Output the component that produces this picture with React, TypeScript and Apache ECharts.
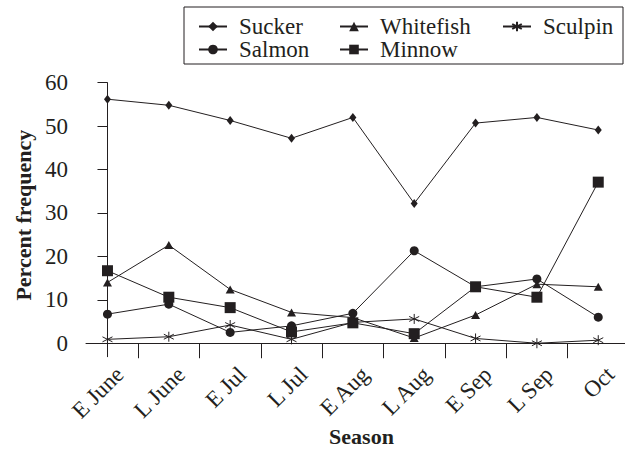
import React, { useEffect, useRef } from "react";
import * as echarts from "echarts";

const seasons = ["E June", "L June", "E Jul", "L Jul", "E Aug", "L Aug", "E Sep", "L Sep", "Oct"];
const sucker = [56.2, 54.8, 51.3, 47.2, 52.0, 32.2, 50.7, 52.0, 49.1];
const whitefish = [14.0, 22.6, 12.4, 7.1, 5.9, 1.2, 6.5, 13.6, 13.0];
const sculpin = [0.9, 1.5, 4.2, 0.9, 4.8, 5.6, 1.1, 0.0, 0.7];
const salmon = [6.7, 9.0, 2.5, 4.0, 6.9, 21.3, 13.0, 14.8, 6.0];
const minnow = [16.7, 10.6, 8.2, 2.6, 4.7, 2.2, 13.0, 10.6, 37.1];
const yTicks = [0, 10, 20, 30, 40, 50, 60];

const INK = "#231f20";
const FONT = "Liberation Serif";
const LABEL_SHIFT = 0.2;
const ASTERISK = "path://M5,0 L5,10 M0.67,2.5 L9.33,7.5 M0.67,7.5 L9.33,2.5";

export default function App() {
  const ref = useRef<HTMLDivElement>(null);
  useEffect(() => {
    if (!ref.current) return;
    document.body.style.margin = "0";
    const chart = echarts.init(ref.current, undefined, { renderer: "svg" });
    const pts = (arr: number[]) => arr.map((v, i) => [i, v]);
    const mk = (name: string, arr: number[], symbol: string, size: any, extra: any = {}) => ({
      name,
      type: "line",
      data: pts(arr),
      symbol,
      symbolSize: size,
      lineStyle: { color: INK, width: 1 },
      itemStyle: { color: INK, ...extra },
      emphasis: { disabled: true },
    });
    const leg = (name: string, left: number, top: number) => ({
      data: [name],
      left,
      top,
      padding: 0,
      itemWidth: 28,
      itemHeight: 12,
      itemGap: 0,
      selectedMode: false,
      textStyle: { fontFamily: FONT, fontSize: 23, color: INK, padding: [0, 0, 0, 7] },
    });
    chart.setOption({
      animation: false,
      backgroundColor: "#ffffff",
      grid: { left: 86, right: 0, top: 82.7, bottom: 94.3, containLabel: false, outerBoundsMode: "none" },
      legend: [
        leg("Sucker", 198, 15),
        leg("Whitefish", 339, 15),
        leg("Sculpin", 502, 15),
        leg("Salmon", 198, 38),
        leg("Minnow", 339, 38),
      ],
      graphic: [
        {
          type: "rect",
          shape: { x: 184, y: 7, width: 439, height: 57 },
          style: { fill: "none", stroke: INK, lineWidth: 1 },
          silent: true,
        },
      ],
      xAxis: {
        type: "value",
        min: -0.35,
        max: 8.436,
        axisLine: { show: true, lineStyle: { color: INK, width: 1 } },
        axisTick: {
          show: true,
          length: 15,
          customValues: seasons.slice(0, -1).map((_, i) => i + 0.5),
          lineStyle: { color: INK, width: 1 },
        },
        axisLabel: {
          customValues: seasons.map((_, i) => i + LABEL_SHIFT),
          rotate: 45,
          margin: 14,
          fontFamily: FONT,
          fontSize: 23,
          color: INK,
          formatter: (v: number) => seasons[Math.round(v - LABEL_SHIFT)] ?? "",
        },
        splitLine: { show: false },
        name: "Season",
        nameLocation: "middle",
        nameGap: 69,
        nameMoveOverlap: false,
        nameTextStyle: { fontFamily: FONT, fontSize: 22, fontWeight: "bold", color: INK, padding: [0, 0, 0, 12] },
      },
      yAxis: {
        type: "value",
        min: -3.1,
        max: 60,
        axisLine: { show: true, lineStyle: { color: INK, width: 1 } },
        axisTick: { show: true, length: 10, customValues: yTicks, lineStyle: { color: INK, width: 1 } },
        axisLabel: { customValues: yTicks, margin: 18, fontFamily: FONT, fontSize: 23, color: INK },
        splitLine: { show: false },
        name: "Percent frequency",
        nameLocation: "middle",
        nameGap: 52,
        nameRotate: 90,
        nameMoveOverlap: false,
        nameTextStyle: { fontFamily: FONT, fontSize: 22, fontWeight: "bold", color: INK, padding: [0, 0, 0, 9] },
      },
      series: [
        mk("Sucker", sucker, "diamond", [7, 9]),
        mk("Salmon", salmon, "circle", 9),
        mk("Whitefish", whitefish, "triangle", [9, 8]),
        mk("Sculpin", sculpin, ASTERISK, 10, { borderColor: INK, borderWidth: 1, color: "none" }),
        mk("Minnow", minnow, "rect", 11),
      ],
    });
    return () => chart.dispose();
  }, []);
  return <div ref={ref} style={{ position: "fixed", left: 0, top: 0, width: 625, height: 451 }} />;
}
